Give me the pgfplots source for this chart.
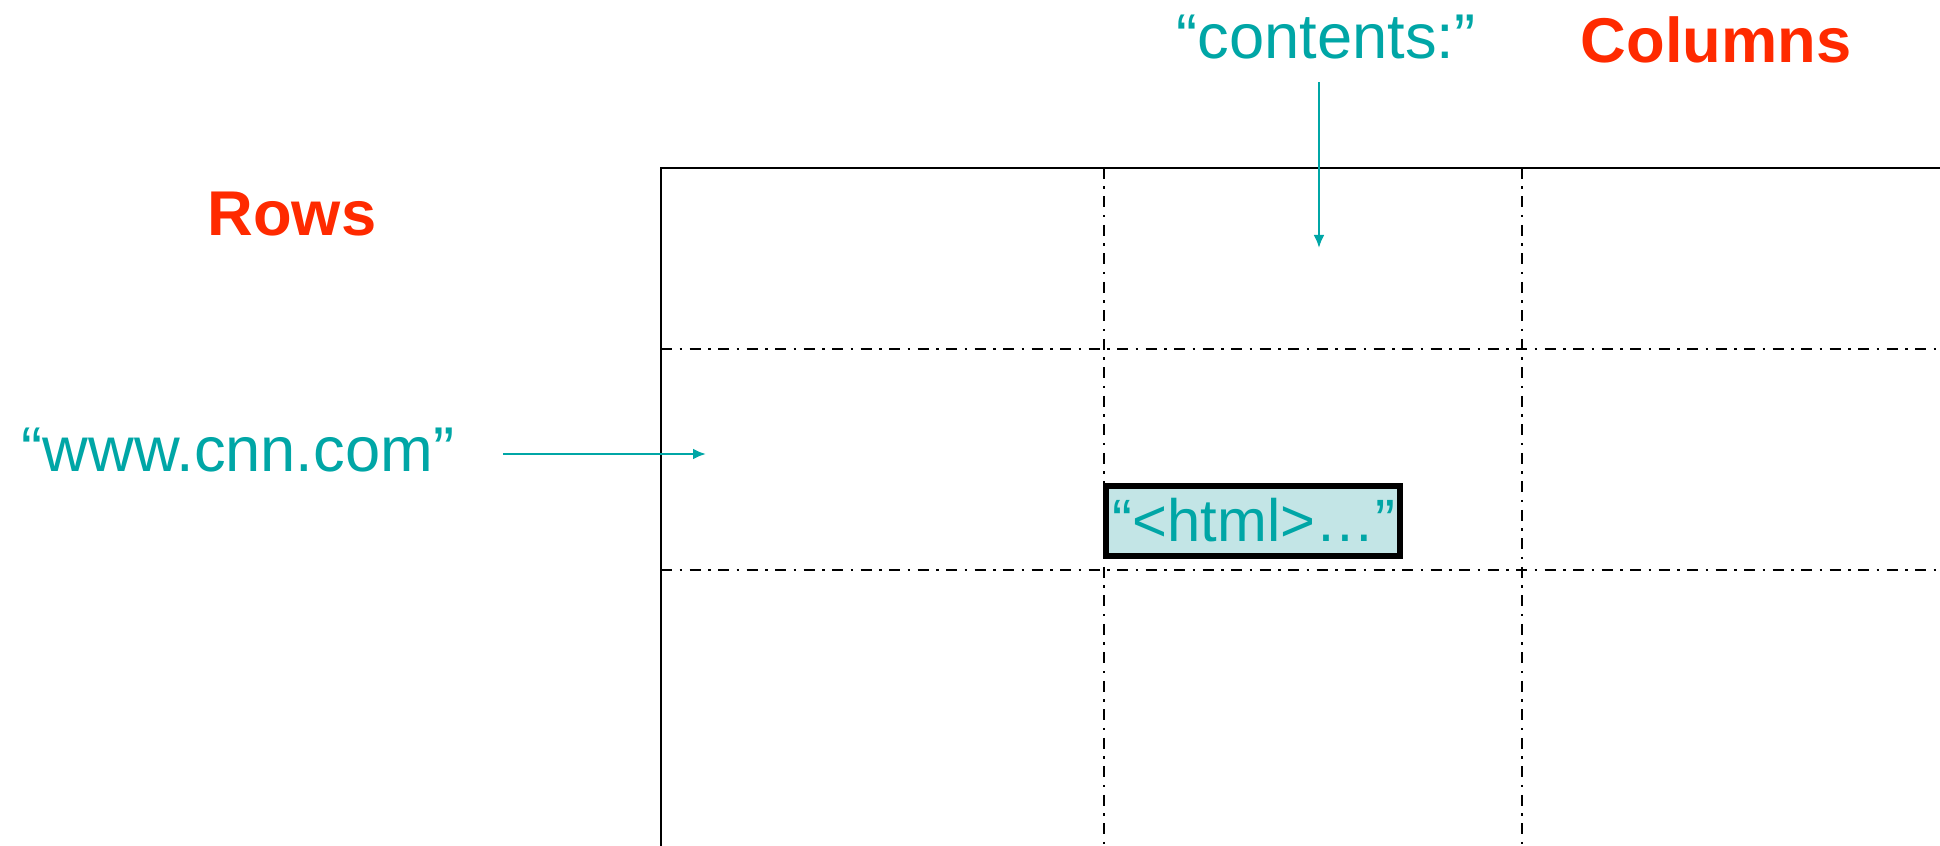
\documentclass[border=0pt]{standalone}
\usepackage{pgfplots}
\pgfplotsset{compat=1.18}
\usepackage{fontspec}
\setmainfont{Liberation Sans}
\usetikzlibrary{arrows.meta}
\definecolor{teal1}{HTML}{00A6A6}
\definecolor{red1}{HTML}{FF2A00}
\definecolor{boxfill}{HTML}{C3E5E6}
\begin{document}
\begin{tikzpicture}
\begin{axis}[
  width=19.4cm, height=8.46cm, scale only axis,
  xmin=0, xmax=1940, ymin=0, ymax=846, y dir=reverse,
  hide axis, clip=false,
  every axis plot/.append style={mark=none},
  dashdotpat/.style={line width=0.75pt, dash pattern=on 1.1mm off 0.75mm on 0.25mm off 0.75mm},
]
% frame
\addplot[black, line width=0.8pt] coordinates {(661,846) (661,168) (1940,168)};
% grid dash-dot lines
\addplot[black, dashdotpat] coordinates {(1104,168) (1104,846)};
\addplot[black, dashdotpat] coordinates {(1522,168) (1522,846)};
\addplot[black, dashdotpat] coordinates {(661,349) (1940,349)};
\addplot[black, dashdotpat] coordinates {(661,570) (1940,570)};
% cell box
\addplot[draw=black, fill=boxfill, line width=1.6pt, line join=miter] coordinates {(1106,486) (1400,486) (1400,556) (1106,556)} -- cycle;
% arrows
\addplot[teal1, line width=0.7pt, -{Latex[length=1.3mm,width=1.1mm]}] coordinates {(1319,82) (1319,248)};
\addplot[teal1, line width=0.7pt, -{Latex[length=1.3mm,width=1.1mm]}] coordinates {(503,454) (706,454)};
% texts
\node[anchor=base, text=teal1, font=\fontsize{18}{20}\selectfont, inner sep=0pt] at (axis cs:1326,59) {“contents:”};
\node[anchor=base, text=red1, font=\fontsize{18}{20}\selectfont\bfseries, inner sep=0pt] at (axis cs:1716,63) {Columns};
\node[anchor=base, text=red1, font=\fontsize{18}{20}\selectfont\bfseries, inner sep=0pt] at (axis cs:292,236) {Rows};
\node[anchor=base, text=teal1, font=\fontsize{18}{20}\selectfont, inner sep=0pt] at (axis cs:238,471) {“www.cnn.com”};
\node[anchor=base, text=teal1, font=\fontsize{17}{19}\selectfont, inner sep=0pt] at (axis cs:1254,541) {“<html>…”};
\end{axis}
\pgfresetboundingbox
\path (0,0) rectangle (19.4cm,8.46cm);
\end{tikzpicture}
\end{document}
